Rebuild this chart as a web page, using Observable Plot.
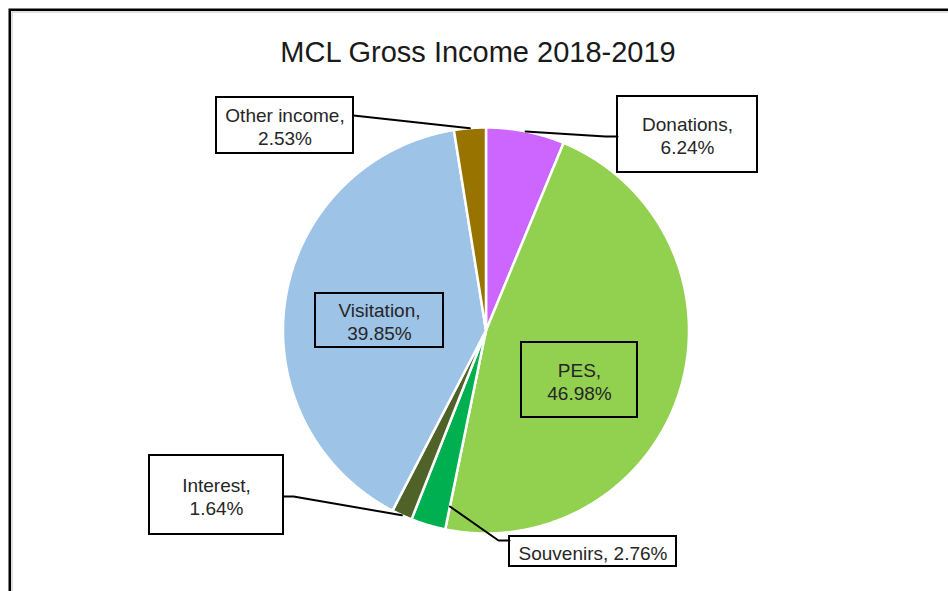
<!DOCTYPE html>
<html><head><meta charset="utf-8">
<script src="https://cdn.jsdelivr.net/npm/d3@7"></script>
<script src="https://cdn.jsdelivr.net/npm/@observablehq/plot@0.6"></script>
<style>body{margin:0;background:#fff;overflow:hidden}</style>
</head><body><div id="chart"></div>
<script>
// ---- data ----
const title = "MCL Gross Income 2018-2019";
const categories = ["Donations", "PES", "Souvenirs", "Interest", "Visitation", "Other income"];
const values = [6.24, 46.98, 2.76, 1.64, 39.85, 2.53];
const labelTexts = ["Donations,\n6.24%", "PES,\n46.98%", "Souvenirs, 2.76%", "Interest,\n1.64%", "Visitation,\n39.85%", "Other income,\n2.53%"];
const colors = ["#CC66FF", "#92D050", "#00B050", "#4F6228", "#9DC3E6", "#997300"];

// ---- layout (pixels) ----
const W = 948, H = 591, CX = 485.5, CY = 330, R = 203;
// box centre offset from pie centre, box size, leader settings
const layout = [
  {cx: 201.5, cy: -196, w: 140, h: 76, side: "left", ay: 2, stub: 12, frac: 0.5, r: 1.0},
  {cx: 93.5, cy: 49.5, w: 116, h: 75},
  {cx: 107, cy: 221, w: 167, h: 30, side: "left", ay: -11, stub: 11, frac: 0, r: 0.885},
  {cx: -269.5, cy: 164.5, w: 134, h: 79, side: "right", ay: 1.5, stub: 10, frac: 0.5, r: 1.0},
  {cx: -106.5, cy: -10, w: 128, h: 54},
  {cx: -201, cy: -205, w: 137, h: 56, side: "right", ay: -10, stub: 0, frac: 0.5, r: 1.0}
];

const arcs = d3.pie().sort(null).value(d => d)(values);

// slice polygons in pie units (y downward)
const slices = [];
arcs.forEach((p, i) => {
  const n = Math.max(4, Math.ceil((p.endAngle - p.startAngle) / 0.004));
  const base = {cat: categories[i], color: colors[i]};
  slices.push({...base, x: 0, y: 0});
  for (let k = 0; k <= n; k++) {
    const a = p.startAngle + (p.endAngle - p.startAngle) * k / n;
    slices.push({...base, x: Math.sin(a), y: -Math.cos(a)});
  }
  slices.push({...base, x: 0, y: 0});
});

const boxes = categories.map((c, i) => {
  const L = layout[i];
  return {cat: c, text: labelTexts[i],
    x: L.cx / R, y: L.cy / R,
    x1: (L.cx - L.w / 2) / R, x2: (L.cx + L.w / 2) / R,
    y1: (L.cy - L.h / 2) / R, y2: (L.cy + L.h / 2) / R};
});

const leaders = [];
categories.forEach((c, i) => {
  const L = layout[i];
  if (!L.side) return;
  const p = arcs[i];
  const a = p.startAngle + (p.endAngle - p.startAngle) * L.frac;
  const sx = Math.sin(a) * L.r, sy = -Math.cos(a) * L.r;
  const bx = L.side === "left" ? L.cx - L.w / 2 : L.cx + L.w / 2;
  const by = L.cy + L.ay;
  const ex = L.side === "left" ? bx - L.stub : bx + L.stub;
  leaders.push({cat: c, x: sx, y: sy});
  leaders.push({cat: c, x: ex / R, y: by / R});
  leaders.push({cat: c, x: bx / R, y: by / R});
});

const font = "'Liberation Sans', Arial, sans-serif";

const chart = Plot.plot({
  width: W, height: H,
  margin: 0,
  x: {domain: [-CX / R, (W - CX) / R], range: [0, W], axis: null},
  y: {domain: [-CY / R, (H - CY) / R], range: [0, H], axis: null},
  style: {background: "#fff", fontFamily: font},
  marks: [
    Plot.frame({stroke: "#000", strokeWidth: 2.5, insetLeft: 9.25, insetTop: 9.25, insetRight: -20, insetBottom: -20}),
    Plot.frame({stroke: "#d4d4d4", strokeWidth: 1.5, insetLeft: 11.5, insetTop: 11.5, insetRight: -20, insetBottom: -20}),
    Plot.text([title], {frameAnchor: "top", lineAnchor: "middle", dx: 3.5, dy: 52, text: d => d, fontSize: 29, fill: "#1a1a1a", fontFamily: font}),
    Plot.line(slices, {x: "x", y: "y", z: "cat", fill: "color", stroke: "#fff", strokeWidth: 2.5, strokeLinejoin: "round"}),
    Plot.line(leaders, {x: "x", y: "y", z: "cat", stroke: "#000", strokeWidth: 2}),
    Plot.rect(boxes, {x1: "x1", x2: "x2", y1: "y1", y2: "y2", fill: "none", stroke: "#000", strokeWidth: 2}),
    Plot.text(boxes, {x: "x", y: "y", dy: 1, text: "text", fontSize: 19, lineHeight: 1.2, fill: "#262626", fontFamily: font})
  ]
});
document.getElementById("chart").append(chart);
</script>
</body></html>
